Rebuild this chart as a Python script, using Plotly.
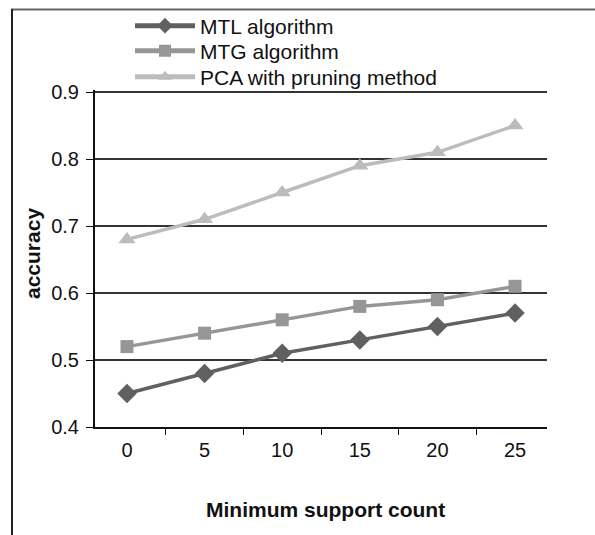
import plotly.graph_objects as go

categories = ["0", "5", "10", "15", "20", "25"]
mtl = [0.45, 0.48, 0.51, 0.53, 0.55, 0.57]
mtg = [0.52, 0.54, 0.56, 0.58, 0.59, 0.61]
pca = [0.68, 0.71, 0.75, 0.79, 0.81, 0.85]

series = [
    ("MTL algorithm", mtl, "#606060", "diamond", 15, "legend"),
    ("MTG algorithm", mtg, "#969696", "square", 13, "legend2"),
    ("PCA with pruning method", pca, "#bcbcbc", "triangle-up", 15, "legend3"),
]

fig = go.Figure()
for name, vals, color, sym, size, lg in series:
    fig.add_trace(go.Scatter(
        x=categories, y=vals, name=name, mode="lines+markers",
        line=dict(color=color, width=3.5),
        marker=dict(symbol=sym, size=size, color=color),
        legend=lg,
    ))

font = "Liberation Sans, Arial, sans-serif"
W, H = 595, 535
L, R, T, B = 95, 48, 90, 108
PW, PH = W - L - R, H - T - B


def legend_at(row_center):
    return dict(
        xref="container", yref="container",
        x=130 / W, y=1 - row_center / H, xanchor="left", yanchor="middle",
        bgcolor="rgba(0,0,0,0)", font=dict(size=21, color="#111"),
        itemwidth=60, itemsizing="constant",
    )


fig.update_layout(
    width=W, height=H,
    margin=dict(l=L, r=R, t=T, b=B, autoexpand=False),
    paper_bgcolor="white", plot_bgcolor="white",
    font=dict(family=font, size=20, color="#111"),
    showlegend=True,
    legend=legend_at(26),
    legend2=legend_at(51),
    legend3=legend_at(77),
    xaxis=dict(
        type="category", showgrid=False, showline=True, linecolor="#111", linewidth=2,
        ticks="outside", tickson="boundaries", ticklen=6, tickcolor="#111", tickwidth=1,
        tickfont=dict(size=20), zeroline=False, automargin=False, ticklabelstandoff=4,
    ),
    yaxis=dict(
        range=[0.4, 0.903], tickvals=[0.4, 0.5, 0.6, 0.7, 0.8, 0.9], tickformat=".1f",
        showgrid=True, gridcolor="#333", gridwidth=1.5,
        showline=True, linecolor="#111", linewidth=2,
        ticks="outside", ticklen=7, tickcolor="#111", tickwidth=1,
        tickfont=dict(size=20), zeroline=False, automargin=False, ticklabelstandoff=3,
    ),
    annotations=[
        dict(text="<b>accuracy</b>", xref="paper", yref="paper",
             x=(32 - L) / PW, y=(H - B - 254) / PH, textangle=-90,
             showarrow=False, xanchor="center", yanchor="middle",
             font=dict(size=21, color="#111")),
        dict(text="<b>Minimum support count</b>", xref="paper", yref="paper",
             x=(325 - L) / PW, y=(H - B - 509) / PH,
             showarrow=False, xanchor="center", yanchor="middle",
             font=dict(size=21, color="#111")),
    ],
    shapes=[
        dict(type="line", xref="paper", yref="paper",
             x0=(11 - L) / PW, x1=(W + 5 - L) / PW,
             y0=(H - B - 9.5) / PH, y1=(H - B - 9.5) / PH,
             line=dict(color="#666", width=2)),
        dict(type="line", xref="paper", yref="paper",
             x0=(12 - L) / PW, x1=(12 - L) / PW,
             y0=(H - B - 9) / PH, y1=(H - B - H - 5) / PH,
             line=dict(color="#222", width=2)),
    ],
)

fig.write_html("out.html")
